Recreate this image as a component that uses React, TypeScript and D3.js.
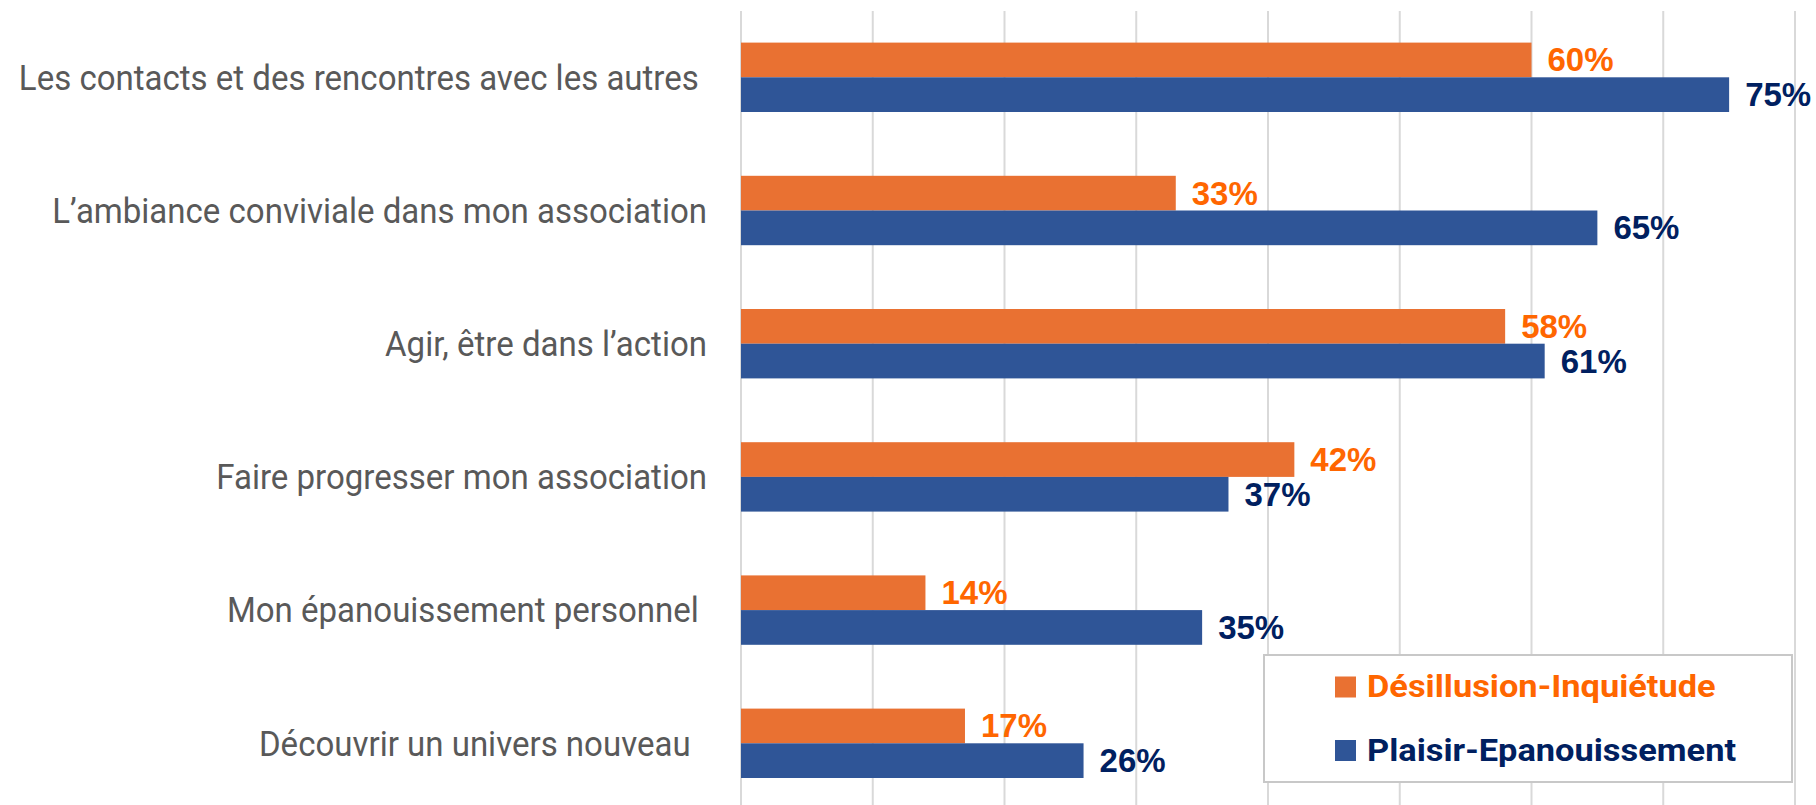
import React from "react";
import * as d3 from "d3";

const categories = [
  "Les contacts et des rencontres avec les autres ",
  "L\u2019ambiance conviviale dans mon association",
  "Agir, \u00eatre dans l\u2019action",
  "Faire progresser mon association",
  "Mon \u00e9panouissement personnel ",
  "D\u00e9couvrir un univers nouveau  ",
];
const seriesNames = ["D\u00e9sillusion-Inqui\u00e9tude", "Plaisir-Epanouissement"];
const desillusion = [0.6, 0.33, 0.58, 0.42, 0.14, 0.17];
const plaisir = [0.75, 0.65, 0.61, 0.37, 0.35, 0.26];
const xTicks = [0, 0.1, 0.2, 0.3, 0.4, 0.5, 0.6, 0.7, 0.8];

const barColors = ["#E97132", "#2F5597"];
const labelColors = ["#FF6600", "#002060"];

const W = 1816;
const H = 805;

export default function App() {
  const x = d3.scaleLinear().domain([0, 0.8]).range([741, 1795]);
  const y = d3
    .scaleBand<string>()
    .domain(categories)
    .range([10.7, 809.9])
    .paddingInner(0.479)
    .paddingOuter(0.2395);
  const ys = d3.scaleBand<string>().domain(seriesNames).range([0, y.bandwidth()]);
  const values = [desillusion, plaisir];
  const fmt = d3.format(".0%");

  return (
    <div style={{ position: "absolute", left: 0, top: 0, width: W, height: H, background: "#fff" }}>
      <svg width={W} height={H} style={{ display: "block" }}>
        <rect width={W} height={H} fill="#fff" />
        {xTicks.map((t) => (
          <line key={t} x1={x(t)} x2={x(t)} y1={11} y2={H} stroke="#D9D9D9" strokeWidth={2} />
        ))}
        {categories.map((c, i) => (
          <g key={c}>
            <text
              x={707}
              y={(y(c) as number) + y.bandwidth() / 2}
              textAnchor="end"
              dominantBaseline="central"
              fill="#595959"
              fontFamily="Roboto"
              fontSize={35}
              style={{ whiteSpace: "pre" }}
              transform={`translate(707,0) scale(0.944,1) translate(-707,0)`}
            >
              {c}
            </text>
            {seriesNames.map((s, k) => {
              const v = values[k][i];
              const by = (y(c) as number) + (ys(s) as number);
              return (
                <g key={s}>
                  <rect x={x(0)} y={by} width={x(v) - x(0)} height={ys.bandwidth()} fill={barColors[k]} />
                  <text
                    x={x(v) + 16}
                    y={by + ys.bandwidth() / 2}
                    dominantBaseline="central"
                    fill={labelColors[k]}
                    fontFamily="Liberation Sans"
                    fontWeight="bold"
                    fontSize={33}
                  >
                    {fmt(v)}
                  </text>
                </g>
              );
            })}
          </g>
        ))}
        <rect x={1264} y={655} width={528} height={127} fill="#fff" stroke="#C8C8C8" strokeWidth={2} />
        {seriesNames.map((s, k) => (
          <g key={s} transform={`translate(1335,${687 + k * 63.5})`}>
            <rect x={0} y={-10.5} width={21} height={21} fill={barColors[k]} />
            <text
              x={0}
              y={0}
              dominantBaseline="central"
              fill={labelColors[k]}
              fontFamily="Roboto"
              fontWeight="bold"
              fontSize={31}
              transform="translate(32,0) scale(1.11,1)"
            >
              {s}
            </text>
          </g>
        ))}
      </svg>
    </div>
  );
}
